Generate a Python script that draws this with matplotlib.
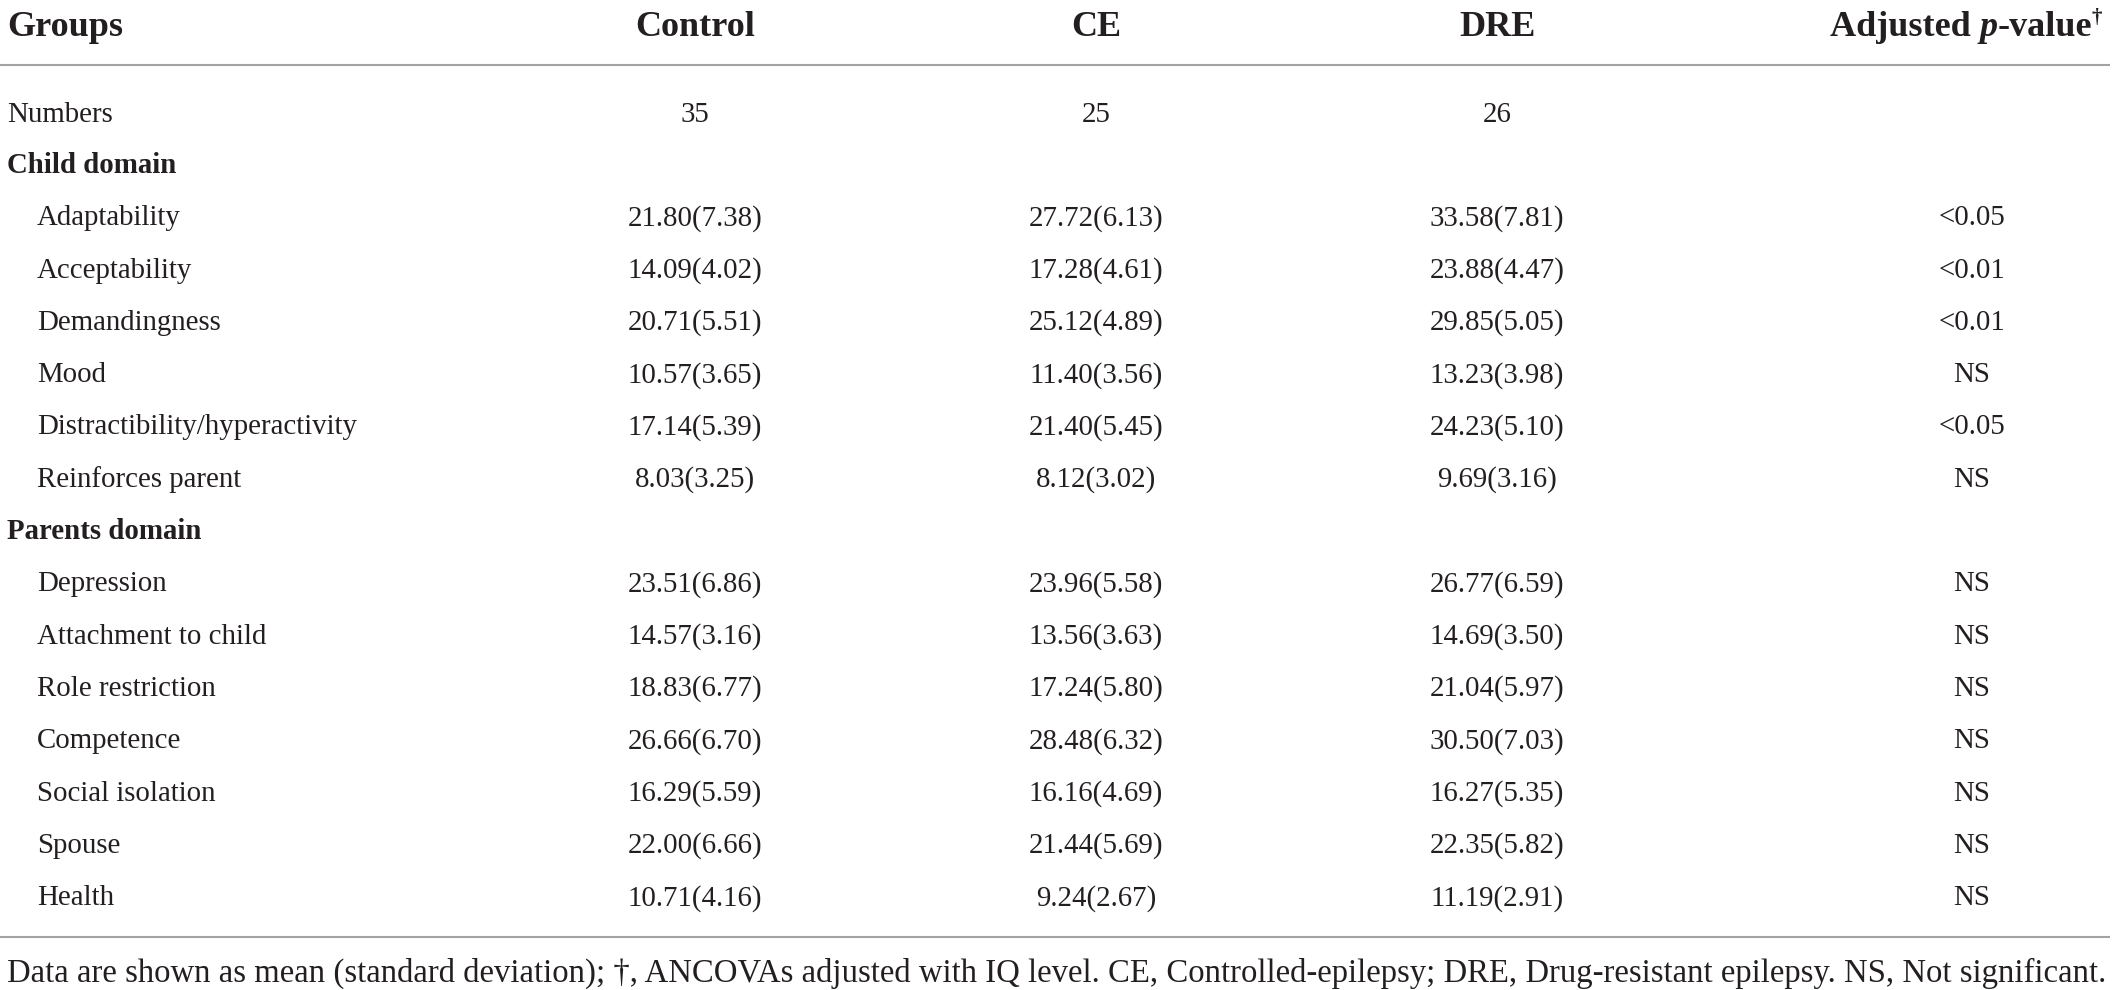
import matplotlib
matplotlib.use("Agg")
import matplotlib.pyplot as plt

# table content
columns = ["Control", "CE", "DRE"]
numbers = [35, 25, 26]

child_rows = ["Adaptability", "Acceptability", "Demandingness", "Mood",
              "Distractibility/hyperactivity", "Reinforces parent"]
child_control_mean = [21.80, 14.09, 20.71, 10.57, 17.14, 8.03]
child_control_sd = [7.38, 4.02, 5.51, 3.65, 5.39, 3.25]
child_ce_mean = [27.72, 17.28, 25.12, 11.40, 21.40, 8.12]
child_ce_sd = [6.13, 4.61, 4.89, 3.56, 5.45, 3.02]
child_dre_mean = [33.58, 23.88, 29.85, 13.23, 24.23, 9.69]
child_dre_sd = [7.81, 4.47, 5.05, 3.98, 5.10, 3.16]
child_p = ["<0.05", "<0.01", "<0.01", "NS", "<0.05", "NS"]

parent_rows = ["Depression", "Attachment to child", "Role restriction",
               "Competence", "Social isolation", "Spouse", "Health"]
parent_control_mean = [23.51, 14.57, 18.83, 26.66, 16.29, 22.00, 10.71]
parent_control_sd = [6.86, 3.16, 6.77, 6.70, 5.59, 6.66, 4.16]
parent_ce_mean = [23.96, 13.56, 17.24, 28.48, 16.16, 21.44, 9.24]
parent_ce_sd = [5.58, 3.63, 5.80, 6.32, 4.69, 5.69, 2.67]
parent_dre_mean = [26.77, 14.69, 21.04, 30.50, 16.27, 22.35, 11.19]
parent_dre_sd = [6.59, 3.50, 5.97, 7.03, 5.35, 5.82, 2.91]
parent_p = ["NS"] * 7

footnote = ("Data are shown as mean (standard deviation); \u2020, ANCOVAs adjusted with "
            "IQ level. CE, Controlled-epilepsy; DRE, Drug-resistant epilepsy. NS, Not significant.")

W, H = 2117, 990
ink = "#231f20"
rule = "#a3a3a3"
font = "Liberation Serif"
body = 20.8
head = 26

fig = plt.figure(figsize=(W / 100, H / 100), dpi=100)
ax = fig.add_axes([0, 0, 1, 1])
ax.set_xlim(0, W)
ax.set_ylim(H, 0)
ax.axis("off")
renderer = fig.canvas.get_renderer()

col_x = [695, 1096, 1497]
p_x = 1972
left = 7
indent = 37


def put(x, y, s, size=body, weight="normal", ha="left", style="normal"):
    return ax.text(x, y, s, fontsize=size, fontweight=weight, fontstyle=style,
                   family=font, color=ink, ha=ha, va="baseline")


def width_of(t):
    bb = t.get_window_extent(renderer=renderer)
    return bb.width


# header
hb = 36
put(left, hb, "Groups", size=head, weight="bold")
for x, c in zip(col_x, columns):
    put(x, hb, c, size=head, weight="bold", ha="center")

pieces = [("Adjusted ", "normal", head, 0), ("p", "italic", head, 0),
          ("-value", "normal", head, 0), ("\u2020", "normal", 15, -13)]
objs = [put(0, hb + dy, s, size=sz, weight="bold", style=st) for s, st, sz, dy in pieces]
total = sum(width_of(o) for o in objs)
x0 = 1966 - total / 2
for o in objs:
    o.set_x(x0)
    x0 += width_of(o)

ax.plot([0, 2110], [65, 65], color=rule, lw=1.5, solid_capstyle="butt")

off = 10  # baseline below visual centre
put(left, 112 + off, "Numbers")
for x, n in zip(col_x, numbers):
    put(x, 112 + off, str(n), ha="center")

pitch = 52.3
y = 163
put(left, y + off, "Child domain", weight="bold")
for i, name in enumerate(child_rows):
    y += pitch
    put(indent, y + off, name)
    vals = [(child_control_mean[i], child_control_sd[i]),
            (child_ce_mean[i], child_ce_sd[i]),
            (child_dre_mean[i], child_dre_sd[i])]
    for x, (m, s) in zip(col_x, vals):
        put(x, y + off, f"{m:.2f}({s:.2f})", ha="center")
    put(p_x, y + off, child_p[i], ha="center")

y += pitch
put(left, y + off, "Parents domain", weight="bold")
for i, name in enumerate(parent_rows):
    y += pitch
    put(indent, y + off, name)
    vals = [(parent_control_mean[i], parent_control_sd[i]),
            (parent_ce_mean[i], parent_ce_sd[i]),
            (parent_dre_mean[i], parent_dre_sd[i])]
    for x, (m, s) in zip(col_x, vals):
        put(x, y + off, f"{m:.2f}({s:.2f})", ha="center")
    put(p_x, y + off, parent_p[i], ha="center")

ax.plot([0, 2110], [937, 937], color=rule, lw=1.5, solid_capstyle="butt")

# footnote, sized to span the table width
fn = put(left, 982, footnote)
fn.set_fontsize(body * (2103 - left) / width_of(fn))

fig.savefig("out.png", dpi=100, facecolor="white")
